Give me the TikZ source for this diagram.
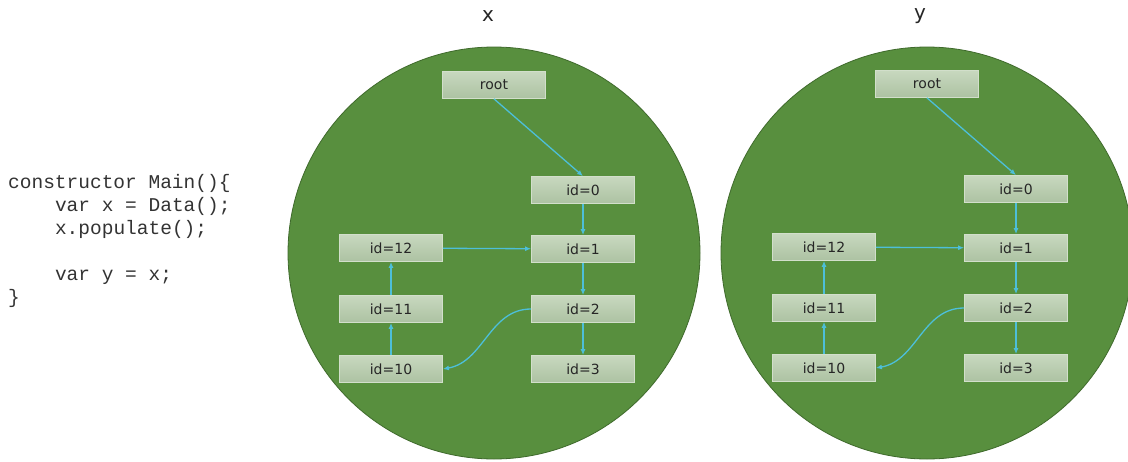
\documentclass[tikz,border=0pt]{standalone}
\usepackage{fontspec}
\setmainfont{DejaVu Sans}
\setmonofont{Liberation Mono}
\usepackage{xcolor}
\definecolor{heapGreen}{HTML}{588F3E}
\definecolor{heapEdge}{HTML}{3F6A2C}
\definecolor{cellTop}{HTML}{C7D8BF}
\definecolor{cellBottom}{HTML}{ADC2A2}
\definecolor{cellLine}{HTML}{D2DFCB}
\definecolor{refLink}{HTML}{4DBFD9}
\usetikzlibrary{arrows.meta}

\newcommand{\tab}{\phantom{0000}}

\tikzset{
  cell/.style={rectangle, draw=cellLine, line width=0.8pt, top color=cellTop, bottom color=cellBottom,
    minimum width=103pt, minimum height=27pt, inner sep=0pt, text=black!85, font=\fontsize{14}{16}\selectfont},
  link/.style={refLink, line width=1.3pt, -{Latex[length=6pt,width=5pt]}},
  heap/.style={fill=heapGreen, draw=heapEdge, line width=0.8pt},
  varname/.style={font=\fontsize{20}{24}\selectfont, text=black!85},
}

\begin{document}
\begin{tikzpicture}[x=1pt, y=1pt]
  \clip (0,0) rectangle (1128,-461);
  \fill[white] (0,0) rectangle (1128,-461);

  % source listing
  \node[anchor=north west, align=left, inner sep=0pt, text=black!80,
        font=\ttfamily\fontsize{19.5}{23}\selectfont] (code) at (8,-174)
    {constructor Main()\{\\
     \tab var x = Data();\\
     \tab x.populate();\\[23pt]
     \tab var y = x;\\
     \}};

  % two heap circles
  \filldraw[heap] (494,-253) circle (206);
  \filldraw[heap] (927,-253) circle (206);
  \node[varname] (xlabel) at (488,-16) {x};
  \node[varname] (ylabel) at (920,-16) {y};

  % object graph seen from x
  \node[cell] (xroot) at (494,-85) {root};
  \node[cell] (x0) at (583,-190) {id=0};
  \node[cell] (x1) at (583,-249) {id=1};
  \node[cell] (x2) at (583,-309) {id=2};
  \node[cell] (x3) at (583,-369) {id=3};
  \node[cell] (x12) at (391,-248) {id=12};
  \node[cell] (x11) at (391,-309) {id=11};
  \node[cell] (x10) at (391,-369) {id=10};
  \draw[link] (xroot.south) -- (x0.north);
  \draw[link] (x0) -- (x1);
  \draw[link] (x1) -- (x2);
  \draw[link] (x2) -- (x3);
  \draw[link] (x2.west) to[out=180, in=10] (x10.east);
  \draw[link] (x10) -- (x11);
  \draw[link] (x11) -- (x12);
  \draw[link] (x12) -- (x1);

  % same graph seen from y
  \node[cell] (yroot) at (927,-84) {root};
  \node[cell] (y0) at (1016,-189) {id=0};
  \node[cell] (y1) at (1016,-248) {id=1};
  \node[cell] (y2) at (1016,-308) {id=2};
  \node[cell] (y3) at (1016,-368) {id=3};
  \node[cell] (y12) at (824,-247) {id=12};
  \node[cell] (y11) at (824,-308) {id=11};
  \node[cell] (y10) at (824,-368) {id=10};
  \draw[link] (yroot.south) -- (y0.north);
  \draw[link] (y0) -- (y1);
  \draw[link] (y1) -- (y2);
  \draw[link] (y2) -- (y3);
  \draw[link] (y2.west) to[out=180, in=10] (y10.east);
  \draw[link] (y10) -- (y11);
  \draw[link] (y11) -- (y12);
  \draw[link] (y12) -- (y1);
\end{tikzpicture}
\end{document}
